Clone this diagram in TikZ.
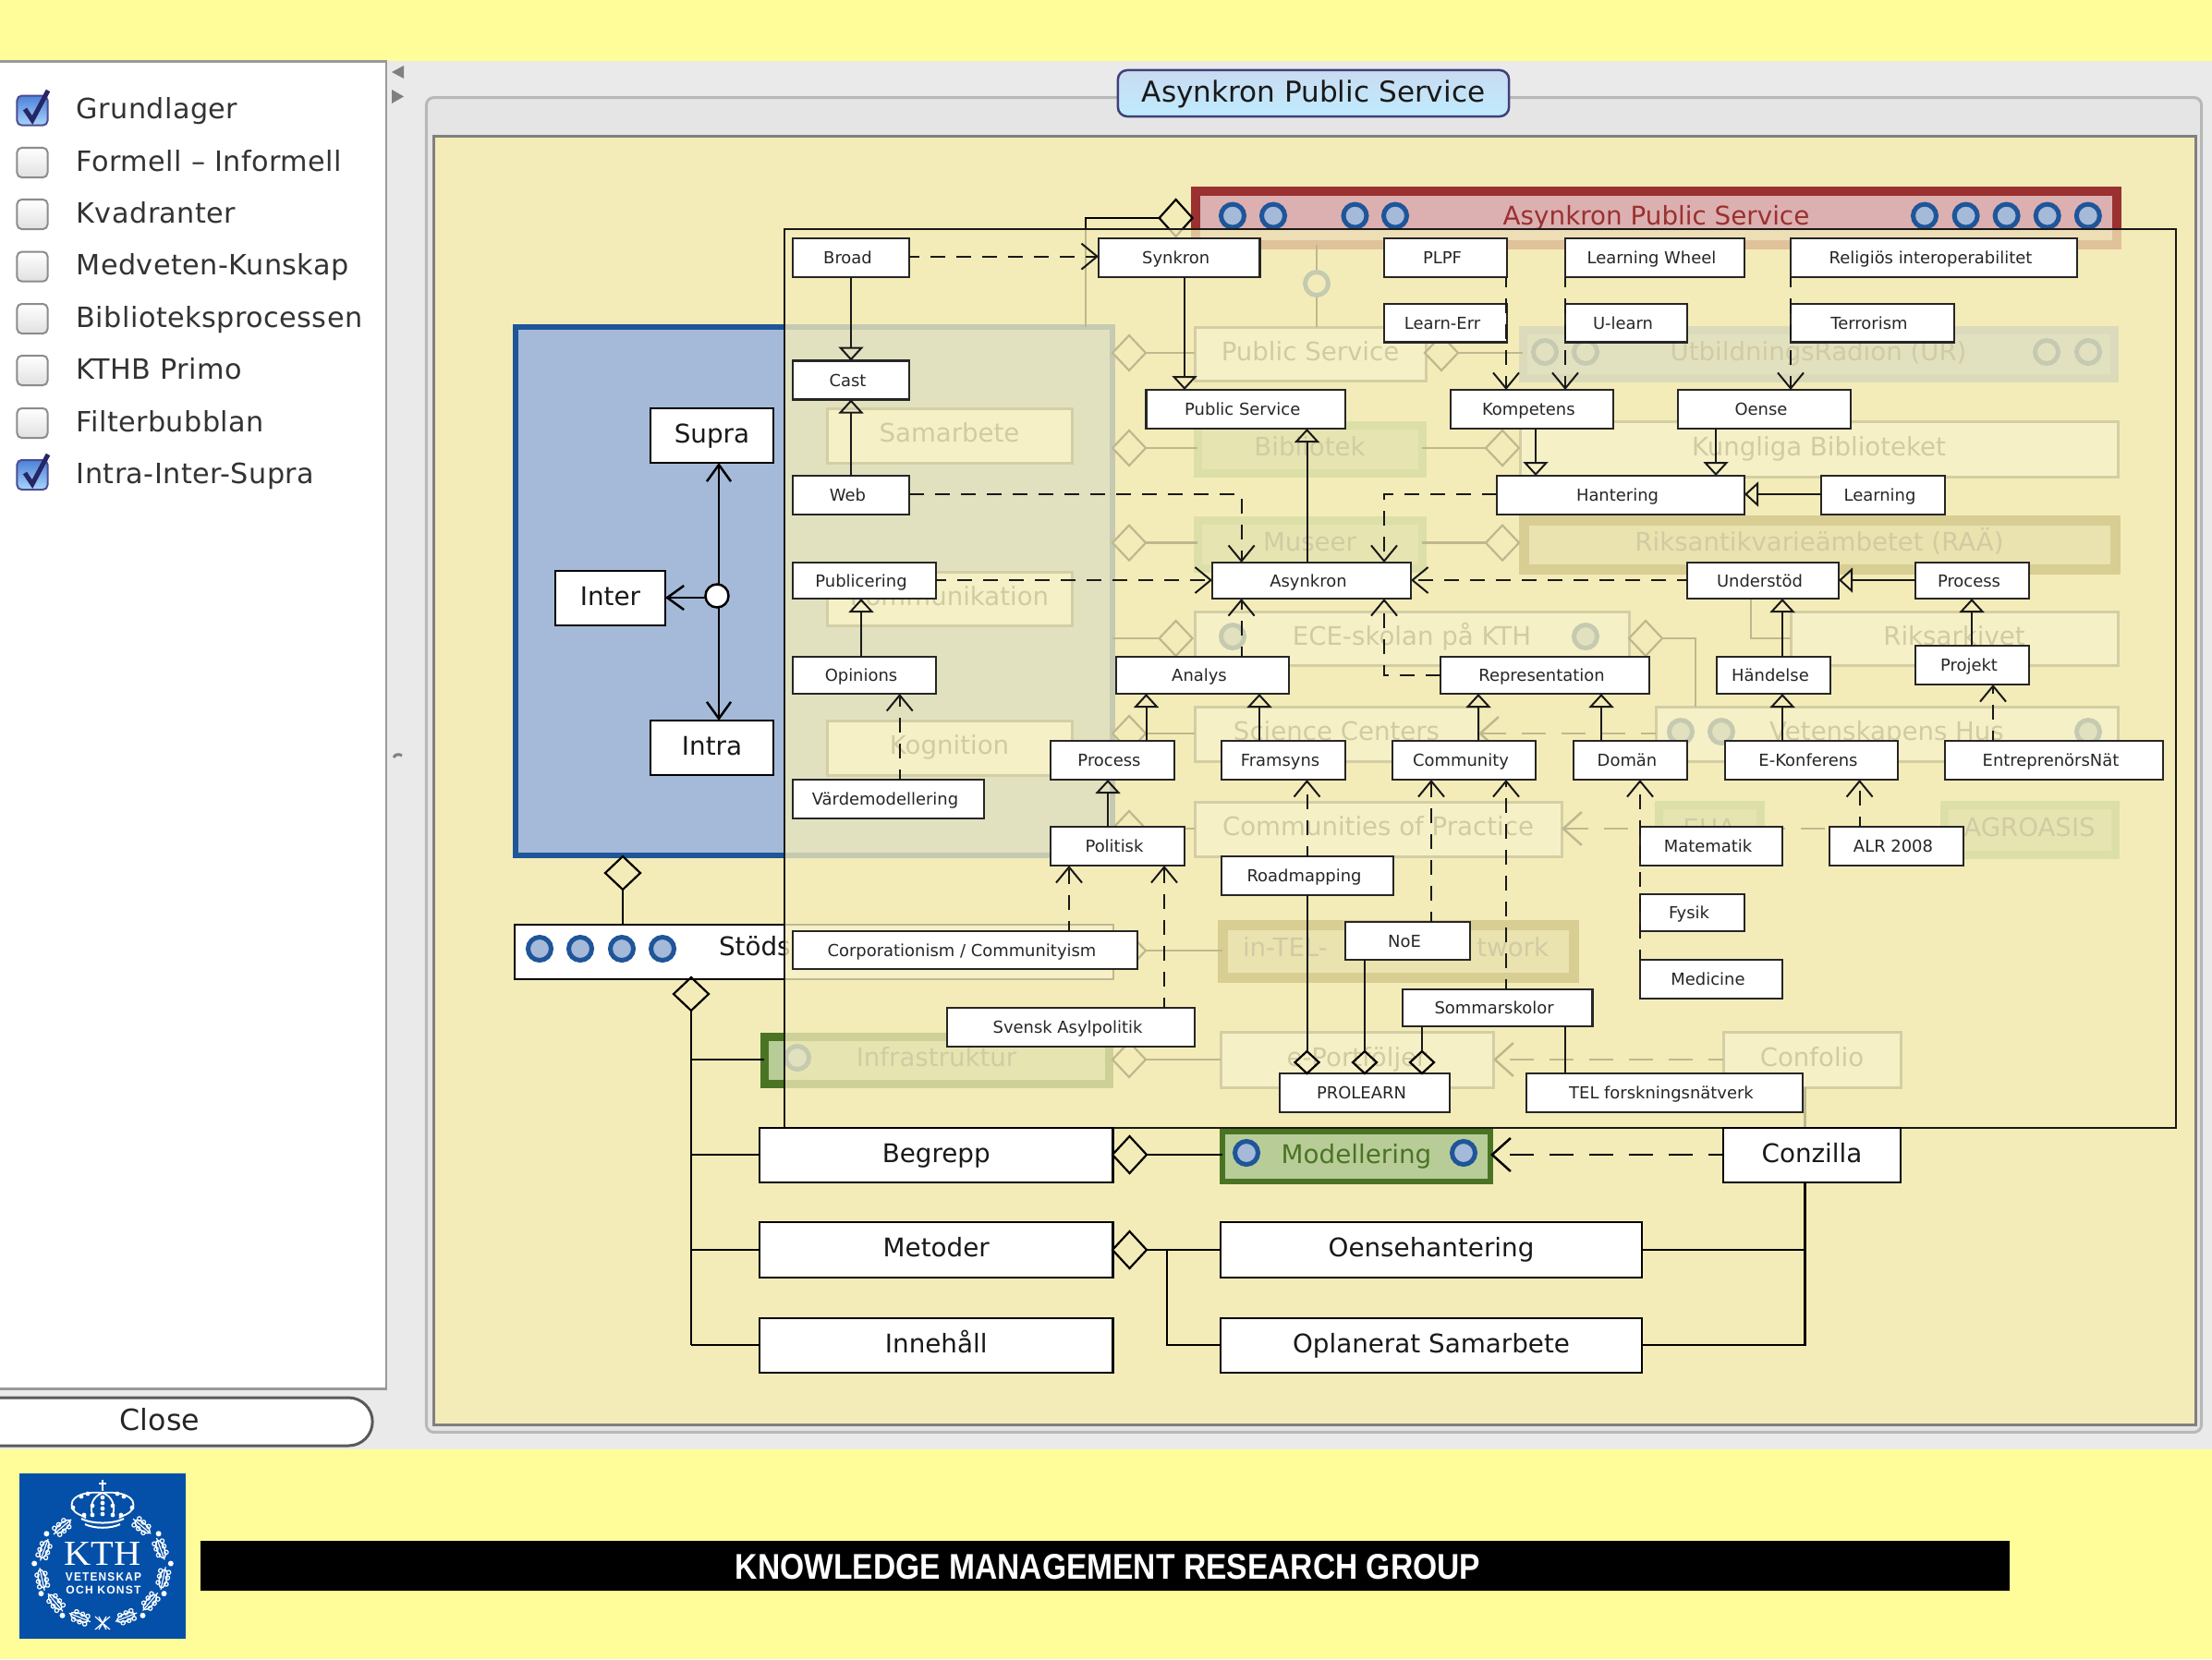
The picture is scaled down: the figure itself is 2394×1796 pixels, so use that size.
\documentclass[tikz,border=0pt]{standalone}
\usepackage{fontspec}
\usepackage{graphicx}
\setmainfont{DejaVu Sans}
\newfontfamily\serifkth{Liberation Serif}
\newfontfamily\sanskth{Liberation Sans}
\usetikzlibrary{arrows.meta,shapes.geometric,calc}
\definecolor{topyellow}{HTML}{FEFD9A}
\definecolor{appgray}{HTML}{EAEAEA}
\definecolor{cream}{HTML}{F4ECB8}
\definecolor{ringblue}{HTML}{1F5599}
\definecolor{blueface}{HTML}{A5BAD8}
\definecolor{greenface}{HTML}{B8CC98}
\definecolor{greendark}{HTML}{4A7424}
\definecolor{greenlight}{HTML}{88B870}
\definecolor{tanedge}{HTML}{786014}
\definecolor{tanface}{HTML}{C8C090}
\definecolor{rededge}{HTML}{9B3030}
\definecolor{redface}{HTML}{DCB0B0}
\definecolor{kthblue}{HTML}{0450A8}
\definecolor{btntop}{HTML}{C9DBF0}
\definecolor{btnmid}{HTML}{7FB8E8}
\definecolor{btnbot}{HTML}{BFEBFF}
\definecolor{chktop}{HTML}{4C82D8}
\definecolor{chkbot}{HTML}{A8D4FA}
\tikzset{
  lab/.style={draw=black!85,fill=white,line width=.022cm,inner sep=0,outer sep=0,text=black!85,
    font=\fontsize{5.1pt}{6pt}\selectfont,text height=.165cm,text depth=.035cm,execute at begin node={\hspace*{-.07cm}}},
  bigbox/.style={draw=black,fill=white,line width=.025cm,inner sep=0,outer sep=0,text=black!90,
    font=\fontsize{7.9pt}{9pt}\selectfont,text height=.21cm,text depth=.06cm},
  fplain/.style={draw=black!60,fill=white,line width=.03cm,inner sep=0,outer sep=0,text=black!65,
    font=\fontsize{7.85pt}{9pt}\selectfont,text height=.2cm,text depth=.06cm},
  fgreen/.style={fplain,draw=greenlight,fill=greenface,line width=.09cm},
  fgreendark/.style={fplain,draw=greendark,fill=greenface,line width=.09cm},
  fblue/.style={fplain,draw=blueface!75!ringblue,fill=blueface,line width=.09cm},
  ftan/.style={fplain,draw=tanedge,fill=tanface,line width=.11cm},
  fred/.style={fplain,draw=rededge,fill=redface,line width=.1cm,text=rededge,font=\fontsize{7.9pt}{9pt}\selectfont},
  ftext/.style={inner sep=0,outer sep=0,text=black!65,font=\fontsize{7.85pt}{9pt}\selectfont,text height=.2cm,text depth=.06cm},
  ringc/.style={circle,draw=ringblue,fill=blueface,line width=.05cm,minimum size=.25cm,inner sep=0,outer sep=0},
  wire/.style={draw=black!90,line width=.02cm},
  fat/.style={draw=black,line width=.025cm},
  genarrow/.style={wire,-{Triangle[open,length=.15cm,width=.27cm]}},
  depe/.style={wire,dash pattern=on .16cm off .12cm,dash phase=.05cm,-{Straight Barb[length=.17cm,width=.28cm]}},
  fatdep/.style={fat,dash pattern=on .26cm off .17cm,dash phase=.1cm,-{Straight Barb[length=.2cm,width=.36cm]}},
  opena/.style={fat,-{Straight Barb[length=.18cm,width=.26cm]}},
  dmd/.style={shape=diamond,aspect=1,inner sep=0,outer sep=0,draw=black,line width=.022cm},
  dmdf/.style={dmd,fill=cream},
  panel/.style={anchor=west,inner sep=0,text=black!80,font=\fontsize{8.6pt}{10pt}\addfontfeature{LetterSpace=1.5}\selectfont,text height=.245cm,text depth=.06cm},
  chk/.style={rounded corners=.05cm,draw=black!45,line width=.02cm,top color=white,bottom color=black!12,minimum width=.33cm,minimum height=.32cm,inner sep=0},
  chkon/.style={chk,draw=blue!40!black!70,top color=chktop,bottom color=chkbot},
}
\newcounter{rc}
\newcommand\bx[7][lab]{\node[#1,minimum width={(#5-#3)*.01cm},minimum height={(#6-#4)*.01cm}] (#2) at ({(#3+#5)/2},{(#4+#6)/2}) {#7};}
\newcommand\dm[6][dmd]{\node[#1,minimum width={#5*.01cm},minimum height={#6*.01cm}] (#2) at (#3,#4) {};}
\newcommand\rg[2]{\stepcounter{rc}\node[ringc] (ring\therc) at (#1,#2) {};}
\newcommand\vc[4][wire]{\coordinate (tmpc) at (#2,0); \draw[#1] (tmpc |- #3) -- (tmpc |- #4);}
\newcommand\hc[4][wire]{\coordinate (tmpc) at (0,#2); \draw[#1] (tmpc -| #3) -- (tmpc -| #4);}
\begin{document}
\begin{tikzpicture}[x=.01cm,y=-.01cm]
\useasboundingbox (0,0) rectangle (2394,1796);
% application background
\fill[topyellow] (0,0) rectangle (2394,1796);
\fill[appgray] (0,66) rectangle (2394,1569);
\draw[black!45,line width=.02cm] (0,66) -- (418,66);
\node[draw=black!40,fill=white,line width=.025cm,minimum width=4.3cm,minimum height=14.36cm,inner sep=0,outer sep=0] (sidepanel) at (203,785) {};
\fill[black!50] (437,71) -- (424,78) -- (437,85) -- cycle;
\fill[black!50] (424,97) -- (437,104.5) -- (424,112) -- cycle;
\draw[black!50,line width=.03cm] (426,820) .. controls (428,816) and (432,816) .. (435,818);
% tab pane
\node[draw=black!28,fill=black!10,rounded corners=.08cm,line width=.03cm,minimum width=19.2cm,minimum height=14.44cm,inner sep=0,outer sep=0] (tabpane) at (1422,828) {};
\node[draw=black!50,fill=cream,line width=.025cm,minimum width=19.06cm,minimum height=13.94cm,inner sep=0,outer sep=0] (canvas) at (1423,845) {};
\node[rounded corners=.1cm,draw=blue!30!black!75,line width=.025cm,top color=btntop,middle color=btnmid,bottom color=btnbot,minimum width=4.23cm,minimum height=.5cm,inner sep=0,text=black!90,font=\fontsize{8.85pt}{11pt}\selectfont,text height=.25cm,text depth=.07cm] (tabbtn) at (1421.5,101) {Asynkron Public Service};
% left panel
\foreach \yy/\lb/\st in {119.6/Grundlager/chkon,176/Formell – Informell/chk,232/Kvadranter/chk,288.6/Medveten-Kunskap/chk,345/Biblioteksprocessen/chk,401/KTHB Primo/chk,458/Filterbubblan/chk,514/Intra-Inter-Supra/chkon}{
  \node[\st] at (35,\yy) {};
  \node[panel] at (82,\yy) {\lb};
}
\draw[blue!30!black!85,line width=.05cm] (27,118) -- (35,130) -- (52,98);
\draw[blue!30!black!85,line width=.05cm] (27,512) -- (35,524) -- (52,492);
\node[rounded corners=.26cm,draw=black!65,line width=.03cm,top color=white,middle color=black!10,bottom color=white,minimum width=4.6cm,minimum height=.52cm,inner sep=0,text=black!85,font=\fontsize{9pt}{10pt}\selectfont,text height=.22cm,text depth=.04cm] (closebtn) at (173,1539) {Close};
% ---- diagram under the translucent sheet ----
\bx[fplain,draw=ringblue,fill=blueface,line width=.06cm]{gblue}{558}{354}{1204}{926}{}
\bx[fred]{fred}{1294}{207}{2291}{265}{Asynkron Public Service}
\foreach \xx in {1334,1378,1466.5,1510,2083,2127.6,2171.6,2215.7,2259.8}{\rg{\xx}{233.6}}
\bx[fplain]{fps}{1293}{354}{1543}{412}{Public Service}
\bx[fplain]{fsam}{895}{442}{1160}{501}{Samarbete}
\bx[fgreen]{fbib}{1296}{460}{1539}{512}{Bibliotek}
\bx[fgreen]{fmus}{1296}{563}{1539}{615}{Museer}
\bx[fplain]{fkom}{895}{619}{1160}{677}{Kommunikation}
\bx[fplain]{fece}{1293}{662}{1763}{720}{ECE-skolan på KTH}
\bx[fplain]{fkog}{895}{780}{1160}{839}{Kognition}
\bx[fplain]{fsci}{1293}{765}{1600}{824}{Science Centers}
\bx[fplain]{fvet}{1792}{765}{2292}{824}{Vetenskapens Hus}
\bx[fplain]{fcom}{1293}{868}{1690}{927}{Communities of Practice}
\bx[fgreen]{feha}{1795}{871}{1905}{927}{EHA}
\bx[fgreen]{fagr}{2104}{871}{2289}{925}{AGROASIS}
\bx[fplain]{fark}{1938}{662}{2292}{720}{Riksarkivet}
\bx[fplain]{fkun}{1645}{456}{2292}{516}{Kungliga Biblioteket}
\bx[fblue]{fur}{1648}{357}{2288}{409}{UtbildningsRadion (UR)}
\bx[ftan]{frik}{1649}{563}{2289}{616}{Riksantikvarieämbetet (RAÄ)}
\bx[ftan]{ftel}{1323}{1001}{1703}{1058}{}
\node[ftext,anchor=west] (ftela) at (1345,1028) {in-TEL-};
\node[ftext,anchor=east] (ftelb) at (1676,1028) {twork};
\bx[fgreendark]{finf}{827}{1122}{1200}{1173}{Infrastruktur}
\bx[fplain]{fepo}{1321}{1117}{1616}{1177}{e-Portföljer}
\bx[fplain]{fcon}{1865}{1117}{2057}{1177}{Confolio}
\foreach \xx in {1672,1716,2215,2260}{\rg{\xx}{381}}
\rg{1334}{689}\rg{1716}{689}
\foreach \xx in {1819,1863,2260}{\rg{\xx}{792}}
\rg{863}{1145}
% Stöds box
\bx[bigbox]{stods}{557}{1001}{1205}{1060}{}
\node[ftext,anchor=west,text=black!90,font=\fontsize{7.9pt}{9pt}\selectfont] (stodst) at (778,1027) {Stöds};
\foreach \xx in {584,628,673,717}{\rg{\xx}{1027}}
% faded diamonds and lines
\dm[dmdf]{dtop}{1272.6}{236}{36}{40}
\dm[dmdf]{d1}{1222}{382}{36}{38}
\dm[dmdf]{d2}{1222}{485}{36}{38}
\dm[dmdf]{d3}{1222}{587.6}{36}{38}
\dm[dmdf]{d4}{1272.6}{691}{36}{38}
\dm[dmdf]{d5}{1222}{794}{36}{38}
\dm[dmdf]{d6}{1222}{897}{36}{38}
\dm[dmdf]{d7}{1222}{1029}{36}{38}
\dm[dmdf]{d8}{1222}{1147}{36}{38}
\dm[dmdf]{d9}{1560}{382}{36}{38}
\dm[dmdf]{d10}{1626}{485}{36}{38}
\dm[dmdf]{d11}{1626}{587.6}{36}{38}
\dm[dmdf]{d12}{1781}{691}{36}{38}
\hc[fat]{382}{d1.east}{fps.west}
\hc[fat]{485}{d2.east}{fbib.west}
\hc[fat]{587.6}{d3.east}{fmus.west}
\hc[fat]{691}{gblue.east}{d4.west}
\hc[fat]{794}{d5.east}{fsci.west}
\hc[fat]{897}{d6.east}{fcom.west}
\hc[fat]{1029}{d7.east}{ftel.west}
\hc[fat]{1147}{d8.east}{fepo.west}
\hc[fat]{382}{d9.east}{fur.west}
\hc[fat]{485}{fbib.east}{d10.west}
\hc[fat]{587.6}{fmus.east}{d11.west}
\coordinate (c1) at (1175,236);
\draw[fat] (dtop.west) -- (c1) -- (c1 |- gblue.north);
\coordinate (c2) at (1835,691);
\draw[fat] (d12.east) -- (c2) -- (c2 |- fvet.north);
\coordinate (c3) at (1895,691);
\draw[fat] (fark.west |- c3) -- (c3) -- (c3 |- frik.south);
\vc[fat]{1425}{fred.south}{fps.north}
\node[ringc,fill=cream] (ringps) at (1425,307) {};
\vc[fat]{1953.6}{fcon.south}{2057,1221}
\hc[fatdep]{794}{fvet.west}{fsci.east}
\hc[fatdep]{897}{feha.west}{fcom.east}
\hc[fat,dash pattern=on .26cm off .17cm]{897}{fagr.west}{feha.east}
\hc[fatdep]{1147}{fcon.west}{fepo.east}
% sheet and frame
\bx[draw=black!90,fill=cream,fill opacity=.78,line width=.022cm,inner sep=0,outer sep=0]{frame}{849}{248}{2355}{1221}{}
% ---- Intra-Inter-Supra ----
\bx[bigbox]{supra}{704}{442}{837}{501}{Supra}
\bx[bigbox]{intra}{704}{780}{837}{839}{Intra}
\bx[bigbox]{inter}{601}{618}{720}{677}{Inter}
\node[circle,draw=black,fill=white,line width=.025cm,minimum size=.25cm,inner sep=0,outer sep=0] (hub) at (776,645) {};
\vc[opena]{778}{hub.north}{supra.south}
\vc[opena]{778}{hub.south}{intra.north}
\hc[opena]{647}{hub.west}{inter.east}
% Stöd diamonds
\dm{dsup}{674}{945}{38}{36}
\dm{dstod}{748}{1076}{38}{36}
\vc[fat]{674}{dsup.south}{stods.north}
% lower section
\bx[bigbox]{begr}{822}{1221}{1204.5}{1280}{Begrepp}
\bx[bigbox]{meto}{822}{1323}{1204.5}{1383}{Metoder}
\bx[bigbox]{inne}{822}{1427}{1204.5}{1486}{Innehåll}
\bx[bigbox]{oens}{1321}{1323}{1777}{1383}{Oensehantering}
\bx[bigbox]{opla}{1321}{1427}{1777}{1486}{Oplanerat Samarbete}
\bx[bigbox]{conz}{1865}{1221}{2057}{1280}{Conzilla}
\bx[fplain,draw=greendark,fill=greenface,line width=.06cm,text=greendark,font=\fontsize{7.9pt}{9pt}\selectfont]{mode}{1323}{1225}{1613}{1279}{Modellering}
\rg{1349}{1248}\rg{1584}{1248}
\dm[dmdf]{dbeg}{1222.5}{1250}{37}{40}
\dm[dmdf]{dmet}{1222.5}{1353}{37}{40}
\coordinate (busb) at (748,1456);
\draw[fat] (dstod.south) -- (busb);
\draw[fat] (busb) -- (inne.west |- busb);
\hc[fat]{1147}{dstod.south}{finf.west}
\hc[fat]{1250}{dstod.south}{begr.west}
\hc[fat]{1353}{dstod.south}{meto.west}
\hc[fat]{1250}{dbeg.east}{mode.west}
\hc[fat]{1353}{dmet.east}{oens.west}
\coordinate (bus2) at (1263,1456);
\draw[fat] (bus2 |- dmet.east) -- (bus2) -- (opla.west |- bus2);
\coordinate (bus3) at (1953.6,1456);
\draw[fat] (bus3 |- conz.south) -- (bus3) -- (opla.east |- bus3);
\hc[fat]{1353}{oens.east}{bus3}
\hc[fatdep]{1250}{conz.west}{mode.east}
% ---- foreground map ----
\bx{broad}{858}{258}{984}{300}{Broad}
\bx{cast}{858}{390.5}{984}{432.5}{Cast}
\bx{web}{858}{515}{984}{557}{Web}
\bx{publ}{858}{609}{1013}{648}{Publicering}
\bx{opin}{858}{711}{1013}{751}{Opinions}
\bx{vard}{858}{844}{1065}{886}{Värdemodellering}
\bx{synk}{1189}{258}{1363.5}{300}{Synkron}
\bx{plpf}{1498}{258}{1631}{300}{PLPF}
\bx{lerr}{1498}{329}{1631}{370.5}{Learn-Err}
\bx{wheel}{1694}{258}{1888}{300}{Learning Wheel}
\bx{ulearn}{1694}{329}{1826}{370.5}{U-learn}
\bx{reli}{1938}{258}{2248}{300}{Religiös interoperabilitet}
\bx{terr}{1938}{329}{2115}{370.5}{Terrorism}
\bx{pubs}{1240.5}{422}{1456}{464}{Public Service}
\bx{komp}{1569.6}{422}{1746}{464}{Kompetens}
\bx{oense}{1816}{422}{2003}{464}{Oense}
\bx{hant}{1620}{515}{1888}{557}{Hantering}
\bx{lear}{1971}{515}{2105}{557}{Learning}
\bx{asyn}{1312}{609}{1527}{648}{Asynkron}
\bx{unde}{1826}{609}{1990}{648}{Understöd}
\bx{procr}{2073}{609}{2196}{648}{Process}
\bx{anal}{1208}{711}{1395}{751}{Analys}
\bx{repr}{1559}{711}{1785}{751}{Representation}
\bx{hand}{1858}{711}{1981}{751}{Händelse}
\bx{proj}{2073}{699}{2196}{741}{Projekt}
\bx{procl}{1137}{802}{1271}{844}{Process}
\bx{fram}{1322}{802}{1456}{844}{Framsyns}
\bx{comm}{1507}{802}{1662}{844}{Community}
\bx{doma}{1703}{802}{1826}{844}{Domän}
\bx{ekon}{1867}{802}{2054}{844}{E-Konferens}
\bx{entr}{2105}{802}{2341}{844}{EntreprenörsNät}
\bx{poli}{1137}{895}{1282}{937}{Politisk}
\bx{matt}{1775}{895}{1929}{937}{Matematik}
\bx{alr}{1980}{895}{2125}{937}{ALR 2008}
\bx{road}{1322}{927}{1508}{969}{Roadmapping}
\bx{fysi}{1775}{968}{1888}{1008}{Fysik}
\bx{noe}{1456}{998}{1591}{1039}{NoE}
\bx{corp}{858}{1008}{1231}{1049}{Corporationism / Communityism}
\bx{medi}{1775}{1039}{1929}{1081}{Medicine}
\bx{somm}{1517.6}{1071}{1723.5}{1111}{Sommarskolor}
\bx{sven}{1025}{1091}{1293}{1133}{Svensk Asylpolitik}
\bx{prol}{1385}{1162}{1569}{1204}{PROLEARN}
\bx{teln}{1652}{1162}{1951}{1204}{TEL forskningsnätverk}
% generalisations
\vc[genarrow]{921}{broad.south}{cast.north}
\vc[genarrow]{921}{web.north}{cast.south}
\vc[genarrow]{932}{opin.north}{publ.south}
\vc[genarrow]{1282}{synk.south}{pubs.north}
\vc[genarrow]{1414.5}{asyn.north}{pubs.south}
\vc[genarrow]{1662}{komp.south}{hant.north}
\vc[genarrow]{1857}{oense.south}{hant.north}
\hc[genarrow]{535}{lear.west}{hant.east}
\hc[genarrow]{628}{procr.west}{unde.east}
\vc[genarrow]{1929}{hand.north}{unde.south}
\vc[genarrow]{2134}{proj.north}{procr.south}
\vc[genarrow]{1240.5}{procl.north}{anal.south}
\vc[genarrow]{1363}{fram.north}{anal.south}
\vc[genarrow]{1600}{comm.north}{repr.south}
\vc[genarrow]{1733}{doma.north}{repr.south}
\vc[genarrow]{1929}{ekon.north}{hand.south}
\vc[genarrow]{1199}{poli.north}{procl.south}
% dependencies
\vc[depe]{973.7}{vard.north}{opin.south}
\hc[depe]{277.6}{broad.east}{synk.west}
\coordinate (wa) at (1343.6,535);
\draw[wire,dash pattern=on .16cm off .12cm,-{Straight Barb[length=.17cm,width=.28cm]}] (web.east |- wa) -- (wa) -- (wa |- asyn.north);
\coordinate (ha) at (1498,535);
\draw[wire,dash pattern=on .16cm off .12cm,-{Straight Barb[length=.17cm,width=.28cm]}] (hant.west |- ha) -- (ha) -- (ha |- asyn.north);
\hc[depe]{628}{publ.east}{asyn.west}
\hc[depe]{628}{unde.west}{asyn.east}
\vc[depe]{1343.6}{anal.north}{asyn.south}
\coordinate (ra) at (1498,731);
\draw[wire,dash pattern=on .16cm off .12cm,-{Straight Barb[length=.17cm,width=.28cm]}] (repr.west |- ra) -- (ra) -- (ra |- asyn.south);
\vc[depe]{1630}{plpf.south}{komp.north}
\vc[depe]{1694}{wheel.south}{komp.north}
\vc[depe]{1938}{reli.south}{oense.north}
\vc[depe]{1414.5}{road.north}{fram.south}
\vc[depe]{1549}{noe.north}{comm.south}
\vc[depe]{1630}{somm.north}{comm.south}
\vc[depe]{1775}{medi.north}{doma.south}
\vc[depe]{2012.6}{alr.north}{ekon.south}
\vc[depe]{2157}{entr.north}{proj.south}
\vc[depe]{1157}{corp.north}{poli.south}
\vc[depe]{1260}{sven.north}{poli.south}
% aggregations
\dm{dp1}{1414.5}{1150}{26}{24}
\dm{dp2}{1477}{1150}{26}{24}
\dm{dp3}{1539}{1150}{26}{24}
\vc{1414.5}{road.south}{dp1.north}
\vc{1477}{noe.south}{dp2.north}
\vc{1539}{somm.south}{dp3.north}
\vc{1693.7}{somm.south}{teln.north}
% ---- logo ----
\node[fill=kthblue,minimum width=1.8cm,minimum height=1.79cm,inner sep=0,outer sep=0] (kthlogo) at (111,1684.5) {};
\foreach \a in {-50,-20,12,40,68,112,140,168,200,230}{
  \begin{scope}[shift={({111+67*cos(\a)},{1697+58*sin(\a)})},rotate={-\a+90}]
    \draw[white,line width=.014cm] (0,0) ellipse [x radius=10,y radius=4];
    \draw[white,line width=.012cm] (-12,0) -- (13,0);
    \foreach \s in {-5,2,8}{\draw[white,line width=.012cm] (\s,4.5) circle [radius=2.2]; \draw[white,line width=.012cm] (\s,-4.5) circle [radius=2.2];}
  \end{scope}
}
\foreach \a in {-35,-4,26,54,126,154,184,215}{
  \fill[white] ({111+74*cos(\a)},{1697+64*sin(\a)}) circle [radius=3];
}
\draw[white,line width=.012cm] (103,1750) -- (119,1764) (119,1750) -- (103,1764) (107,1750) -- (115,1764) (115,1750) -- (107,1764);
\draw[white,line width=.018cm] (111,1602) -- (111,1614) (107,1606) -- (115,1606);
\draw[white,line width=.018cm] (111,1616) .. controls (92,1614) and (72,1620) .. (79,1634) .. controls (82,1639) and (88,1640) .. (93,1643);
\draw[white,line width=.018cm] (111,1616) .. controls (130,1614) and (150,1620) .. (143,1634) .. controls (140,1639) and (134,1640) .. (129,1643);
\draw[white,line width=.018cm] (111,1616) .. controls (100,1620) and (97,1630) .. (100,1640);
\draw[white,line width=.018cm] (111,1616) .. controls (122,1620) and (125,1630) .. (122,1640);
\foreach \xx/\yy in {111/1621,111/1627,111/1633,111/1639,100/1640,122/1640,100/1630,122/1630,88/1620,134/1620,79/1632,143/1632,91/1640,131/1640,95/1617,127/1617}{\fill[white] (\xx,\yy) circle [radius=2.4];}
\draw[white,line width=.02cm] (88,1644) .. controls (100,1650) and (122,1650) .. (134,1644);
\draw[white,line width=.02cm] (92,1650) .. controls (102,1655) and (120,1655) .. (130,1650);
\node[inner sep=0,text=white] (kthname) at (111,1681.5) {\resizebox{.83cm}{.25cm}{\serifkth KTH}};
\node[inner sep=0,text=white] (kthone) at (112,1707.5) {\resizebox{.82cm}{.09cm}{\sanskth\bfseries\addfontfeature{LetterSpace=10}VETENSKAP}};
\node[inner sep=0,text=white] (kthtwo) at (112,1721) {\resizebox{.81cm}{.085cm}{\sanskth\bfseries\addfontfeature{LetterSpace=10}OCH KONST}};
% ---- bar ----
\node[fill=black,minimum width=19.56cm,minimum height=.54cm,inner sep=0,outer sep=0] (kmrbar) at (1196,1695) {};
\node[inner sep=0,text=white] (kmrtext) at (1199,1696.5) {\resizebox{8.06cm}{.27cm}{\sanskth\bfseries KNOWLEDGE MANAGEMENT RESEARCH GROUP}};
\end{tikzpicture}
\end{document}
